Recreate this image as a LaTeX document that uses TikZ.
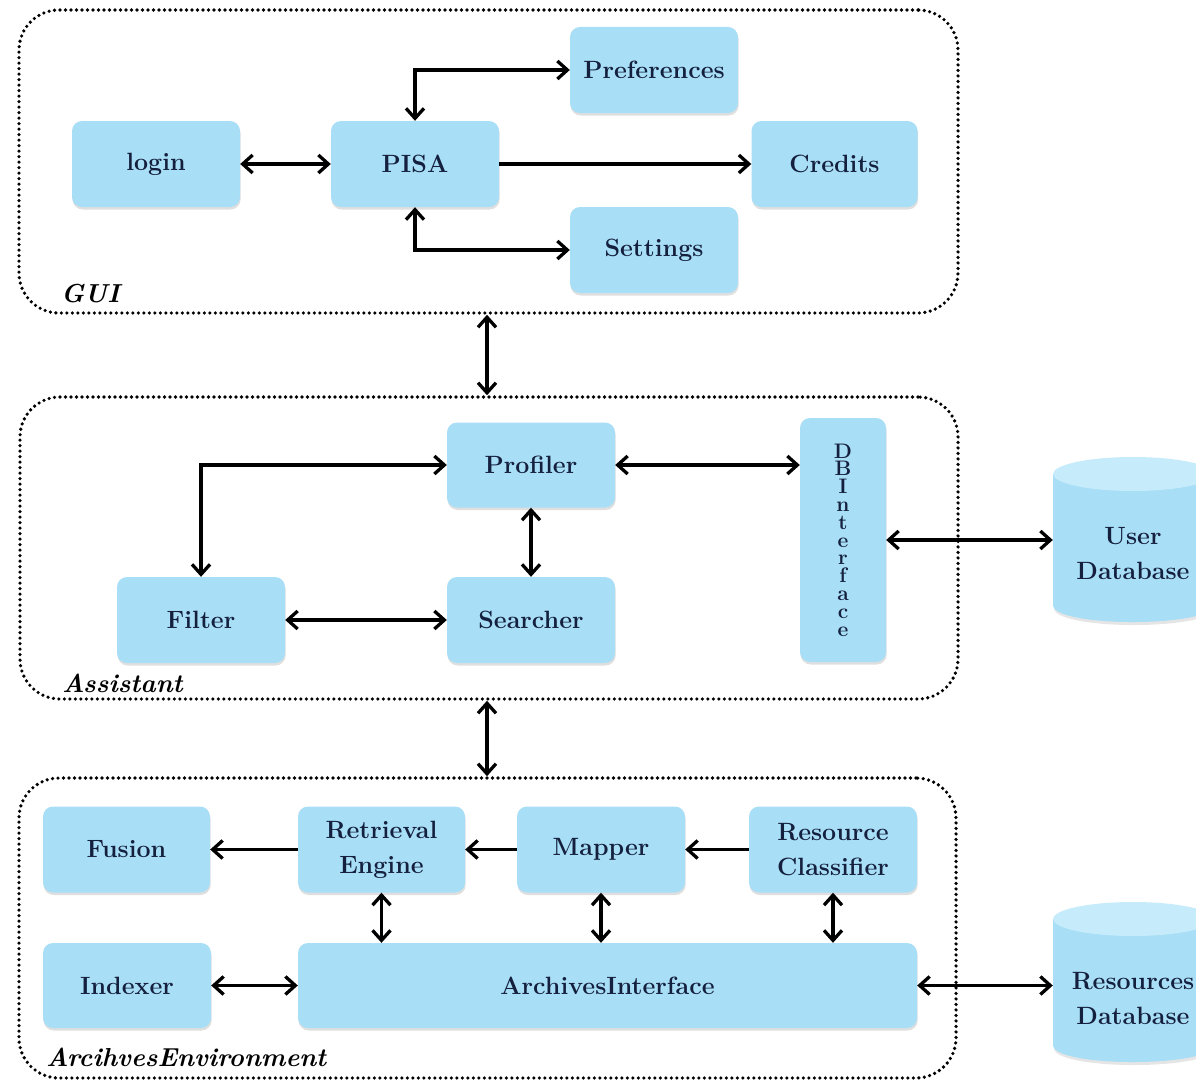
\documentclass[tikz,border=0pt]{standalone}
\usepackage{fontspec}
\usetikzlibrary{arrows.meta,shadows,calc}

\definecolor{boxblue}{RGB}{168,222,246}
\definecolor{boxtop}{RGB}{198,235,251}
\definecolor{inkblue}{RGB}{20,32,62}

\tikzset{
  box/.style={rectangle, rounded corners=10pt, fill=boxblue, text=inkblue,
    font=\bfseries\fontsize{25}{35}\selectfont, align=center, inner sep=0pt,
    minimum width=168pt, minimum height=86pt,
    drop shadow={shadow xshift=0.6pt, shadow yshift=-2.5pt, opacity=0.18, fill=black!70}},
  frame/.style={rectangle, draw=black, line width=3.6pt, dash pattern=on 0pt off 5.5pt,
    line cap=round, rounded corners=40pt, inner sep=0pt},
  tip/.tip={Straight Barb[length=10pt,width=18pt]},
  link/.style={draw=black, line width=3.3pt, tip-tip},
  oneway/.style={draw=black, line width=3.3pt, -tip},
  tag/.style={anchor=base west, font=\bfseries\itshape\fontsize{26}{30}\selectfont,
    text=black, inner sep=0pt},
  drumtext/.style={text=inkblue, font=\bfseries\fontsize{25}{35}\selectfont,
    align=center, inner sep=0pt, minimum width=160pt}
}

% database drum: centre x, top y, bottom y (y grows downwards)
\newcommand\drumshape[3]{%
  \fill[black,opacity=0.10] (#1-79,#2+19) -- (#1-79,#3-14)
    .. controls (#1-79,#3+8.7) and (#1+81,#3+8.7) .. (#1+81,#3-14) -- (#1+81,#2+19) -- cycle;
  \fill[boxblue] (#1-80,#2+17) -- (#1-80,#3-17)
    .. controls (#1-80,#3+5.7) and (#1+80,#3+5.7) .. (#1+80,#3-17) -- (#1+80,#2+17) -- cycle;
  \fill[boxtop] (#1,#2+17) ellipse [x radius=80, y radius=17];
}

\begin{document}
\begin{tikzpicture}[x=1pt,y=-1pt]
  \path[use as bounding box] (0,0) rectangle (1196,1081);
  \clip (0,0) rectangle (1196,1081);

  % ---------- group frames ----------
  \node[frame, minimum width=939pt, minimum height=303pt] (gui) at (488.5,161.5) {};
  \node[frame, minimum width=938pt, minimum height=302pt] (assistant) at (489,548) {};
  \node[frame, minimum width=937pt, minimum height=300pt] (archenv) at (487.5,928) {};

  \node[tag] (guitag) at (61,302) {GUI};
  \node[tag] (assisttag) at (62,692) {Assistant};
  \node[tag] (archtag) at (46,1066) {ArcihvesEnvironment};

  % ---------- GUI ----------
  \node[box] (pref) at (654,70) {Preferences};
  \node[box] (login) at (156,164) {login};
  \node[box] (pisa) at (415,164) {PISA};
  \node[box, minimum width=166pt] (credits) at (834.5,164) {Credits};
  \node[box] (settings) at (654,250) {Settings};

  \draw[link] (login) -- (pisa);
  \draw[oneway] (pisa) -- (credits);
  \draw[link] (pisa.north) |- (pref.west);
  \draw[link] (pisa.south) |- (settings.west);

  % ---------- Assistant ----------
  \node[box, minimum height=85pt] (profiler) at (531,465) {Profiler};
  \node[box] (searcher) at (531,620) {Searcher};
  \node[box] (filter) at (201,620) {Filter};
  \node[box, minimum width=86pt, minimum height=244pt,
        font=\bfseries\fontsize{21}{17.8}\selectfont] (dbi) at (843,540)
        {D\\B\\I\\n\\t\\e\\r\\f\\a\\c\\e};

  \drumshape{1133}{457}{622}
  \node[drumtext, minimum height=165pt] (userdb) at (1133,553) {User\\Database};

  \draw[link] (filter.north) |- (profiler.west);
  \draw[link] (filter) -- (searcher);
  \draw[link] (profiler) -- (searcher);
  \draw[link] (profiler.east) -- (profiler.east -| dbi.west);
  \draw[link] (dbi.east) -- (dbi.east -| userdb.west);

  % ---------- Archives environment ----------
  \node[box, minimum width=167pt] (fusion) at (126.5,849.5) {Fusion};
  \node[box, minimum width=167pt] (retrieval) at (381.5,849.5) {Retrieval\\Engine};
  \node[box] (mapper) at (601,849.5) {Mapper};
  \node[box] (classifier) at (833,849.5) {Resource\\Classifier};
  \node[box, minimum height=85pt] (indexer) at (127,985.5) {Indexer};
  \node[box, minimum width=619pt, minimum height=85pt] (ai) at (607.5,985.5) {ArchivesInterface};

  \drumshape{1133}{902}{1062}
  \node[drumtext, minimum height=160pt] (resdb) at (1133,998) {Resources\\Database};

  \draw[oneway] (retrieval) -- (fusion);
  \draw[oneway] (mapper) -- (retrieval);
  \draw[oneway] (classifier) -- (mapper);
  \draw[link] (retrieval.south) -- (retrieval.south |- ai.north);
  \draw[link] (mapper.south) -- (mapper.south |- ai.north);
  \draw[link] (classifier.south) -- (classifier.south |- ai.north);
  \draw[link] (indexer) -- (ai);
  \draw[link] (ai.east) -- (ai.east -| resdb.west);

  % ---------- links between groups ----------
  \coordinate (midlink) at (487,0);
  \draw[link] (gui.south -| midlink) -- (assistant.north -| midlink);
  \draw[link] (assistant.south -| midlink) -- (archenv.north -| midlink);
\end{tikzpicture}
\end{document}
